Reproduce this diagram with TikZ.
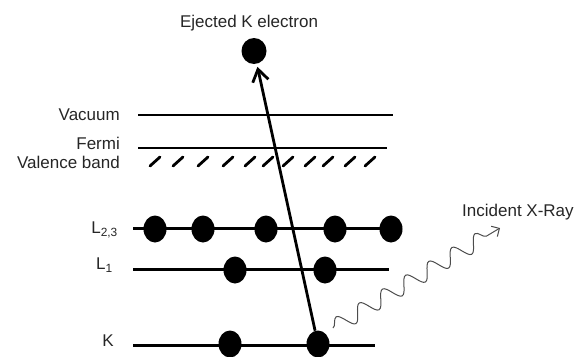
\documentclass[tikz,border=0pt]{standalone}
\usepackage{fontspec}
\setmainfont{Liberation Sans}
\usetikzlibrary{shapes.geometric,arrows.meta,decorations.pathmorphing}
\begin{document}
\begin{tikzpicture}[x=1pt,y=-1pt,
  electron/.style={ellipse,fill=black,minimum width=23pt,minimum height=27pt,inner sep=0pt},
  level/.style={line width=3pt},
  band/.style={line width=2pt},
  hatch/.style={line width=2.8pt,line cap=round},
  lbl/.style={font=\fontsize{17}{20}\selectfont,text=black!85,inner sep=0pt}]
\useasboundingbox (0,0) rectangle (577,356);

% labels
\node[lbl] (tej) at (249,23) {Ejected K electron};
\node[lbl,anchor=east] (tvac) at (120,115) {Vacuum};
\node[lbl,anchor=east] (tfer) at (120,143) {Fermi};
\node[lbl,anchor=east] (tval) at (120,162) {Valence band};
\node[lbl,anchor=east] (tl23) at (118,230) {L\textsubscript{2,3}};
\node[lbl,anchor=east] (tl1) at (113,265) {L\textsubscript{1}};
\node[lbl,anchor=east] (tk) at (114,341) {K};
\node[lbl,anchor=west] (txr) at (462,212) {Incident X-Ray};

% band lines
\coordinate (vacL) at (138,115); \coordinate (vacR) at (393,115);
\coordinate (ferL) at (138,148); \coordinate (ferR) at (387,148);
\draw[band] (vacL) -- (vacR);
\draw[band] (ferL) -- (ferR);

% valence band hatching
\foreach \c in {155,178,203,228,250,268,288,310,328,350,370}
  \draw[hatch] (\c-5,166) -- (\c+5,157);

% levels
\coordinate (l23L) at (133,228); \coordinate (l23R) at (390,228);
\coordinate (l1L) at (133,269); \coordinate (l1R) at (389,269);
\coordinate (kL) at (133,345); \coordinate (kR) at (375,345);
\draw[level] (l23L) -- (l23R);
\draw[level] (l1L) -- (l1R);
\draw[level] (kL) -- (kR);

% electrons
\node[electron] (a1) at (155,229) {};
\node[electron] (a2) at (203,229) {};
\node[electron] (a3) at (266,229) {};
\node[electron] (a4) at (335,229) {};
\node[electron] (a5) at (391,229) {};
\node[electron] (b1) at (235,270) {};
\node[electron] (b2) at (325,270) {};
\node[electron] (k1) at (230,344) {};
\node[electron] (k2) at (318,344) {};
\node[electron,minimum width=25pt,minimum height=26pt] (ej) at (254,51) {};

% ejection arrow
\draw[line width=2.8pt,-{Straight Barb[length=12pt,width=16pt]},shorten >=3pt] (k2) -- (ej);

% incident x-ray
\coordinate (xs) at (333,328);
\coordinate (xe) at (500,228);
\draw[black!70,line width=1pt,decorate,
      decoration={snake,segment length=27pt,amplitude=8pt,post length=5pt},
      -{Straight Barb[length=6pt,width=12pt]}] (xs) -- (xe);
\end{tikzpicture}
\end{document}
